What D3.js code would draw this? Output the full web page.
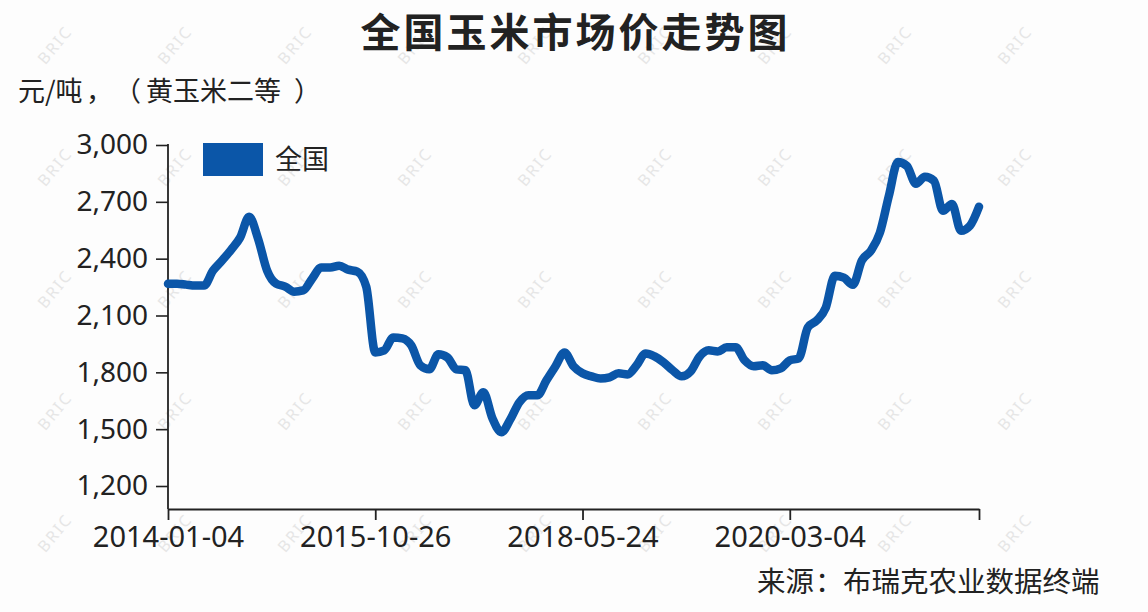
<!DOCTYPE html>
<html><head><meta charset="utf-8">
<script src="https://cdn.jsdelivr.net/npm/d3@7"></script>
<style>body{margin:0;background:#fdfdfd}svg{display:block}</style>
</head><body>
<svg id="c" width="1148" height="612"></svg>
<script>
const values = [2268,2268,2263,2258,2258,2337,2390,2447,2511,2621,2505,2337,2268,2253,2226,2232,2295,2353,2353,2363,2342,2332,2252,1905,1916,1984,1979,1942,1837,1816,1895,1879,1816,1811,1626,1695,1558,1484,1553,1642,1679,1679,1758,1832,1905,1832,1795,1779,1768,1774,1795,1789,1837,1900,1884,1853,1811,1779,1805,1884,1916,1910,1932,1932,1863,1832,1837,1811,1821,1863,1874,2037,2074,2142,2310,2300,2262,2390,2442,2537,2732,2910,2889,2795,2832,2811,2653,2689,2547,2574,2674];
const tickIndex = [0,23,46,69,90];
const tickLabels = ["2014-01-04","2015-10-26","2018-05-24","2020-03-04",""];
const yTicks = [1200,1500,1800,2100,2400,2700,3000];
const seriesName = "全国";
const title = "全国玉米市场价走势图";
const yTitleParts = ["元/吨", "，", "（", "黄玉米二等", "）"];
const sourceParts = ["来源", "：", "布瑞克农业数据终端"];

const W = 1148, H = 612;
const CJK = "'Noto Sans CJK SC', 'Noto Sans', sans-serif";
const NUM = "'Noto Sans', 'DejaVu Sans', sans-serif";
const blue = "#0b56a8";
const ink = "#222";

const svg = d3.select("#c");
svg.append("rect").attr("width", W).attr("height", H).attr("fill", "#fdfdfd");

// watermark
const wm = svg.append("g").attr("fill", "#e6e6e6").style("font-family", NUM).style("font-size", "16px");
for (let gx = 55; gx < W - 20; gx += 120) {
  for (let gy = 45; gy < H - 20; gy += 122) {
    wm.append("text").attr("transform", `translate(${gx},${gy}) rotate(-50)`)
      .attr("text-anchor", "middle").attr("dy", "0.35em").attr("letter-spacing", "2px").text("BRIC");
  }
}

const axisY0 = 509;
const x = d3.scaleLinear().domain([0, values.length - 1]).range([168, 979]);
const y = d3.scaleLinear().domain([1200, 3000]).range([486, 145]);

// title
svg.append("text").attr("x", W / 2 + 1.5).attr("y", 47).attr("text-anchor", "middle")
  .style("font-family", CJK).style("font-weight", "bold").style("font-size", "40px")
  .attr("letter-spacing", "3px").attr("fill", ink).text(title);

// y title with full-width punctuation spacing
const yt = svg.append("text").attr("y", 101)
  .style("font-family", CJK).style("font-size", "27px").attr("fill", ink);
const ytX = [18, 86, 114, 146, 294];
yTitleParts.forEach((p, i) => yt.append("tspan").attr("x", ytX[i]).text(p));

// y axis
const gy = svg.append("g").attr("transform", `translate(168,0)`)
  .call(d3.axisLeft(y).tickValues(yTicks).tickFormat(d3.format(",")).tickSize(12).tickPadding(8));
gy.select(".domain").remove();
gy.selectAll("line").attr("stroke", ink).attr("stroke-width", 1.6);
gy.selectAll("text").style("font-family", NUM).style("font-size", "28px").attr("fill", ink);
svg.append("line").attr("x1", 168).attr("x2", 168).attr("y1", y(3000) - 1).attr("y2", axisY0)
  .attr("stroke", ink).attr("stroke-width", 1.8);

// x axis
const gx = svg.append("g").attr("transform", `translate(0,${axisY0})`)
  .call(d3.axisBottom(x).tickValues(tickIndex).tickFormat((d, i) => tickLabels[i])
    .tickSize(11).tickSizeOuter(0).tickPadding(6));
gx.select(".domain").attr("stroke", ink).attr("stroke-width", 1.8);
gx.selectAll("line").attr("stroke", ink).attr("stroke-width", 1.8);
gx.selectAll("text").style("font-family", NUM).style("font-size", "29px").attr("fill", ink);

// line
const line = d3.line().x((d, i) => x(i)).y(d => y(d)).curve(d3.curveMonotoneX);
svg.append("path").datum(values).attr("d", line).attr("fill", "none")
  .attr("stroke", blue).attr("stroke-width", 8.5).attr("stroke-linejoin", "round").attr("stroke-linecap", "round");

// legend
svg.append("rect").attr("x", 203).attr("y", 143).attr("width", 60).attr("height", 33).attr("fill", blue);
svg.append("text").attr("x", 275).attr("y", 169)
  .style("font-family", CJK).style("font-size", "27px").attr("fill", ink).text(seriesName);

// source
const st = svg.append("text").attr("y", 592)
  .style("font-family", CJK).style("font-size", "28.5px").attr("fill", ink);
const stX = [757, 815, 843];
sourceParts.forEach((p, i) => st.append("tspan").attr("x", stX[i]).text(p));
</script>
</body></html>
